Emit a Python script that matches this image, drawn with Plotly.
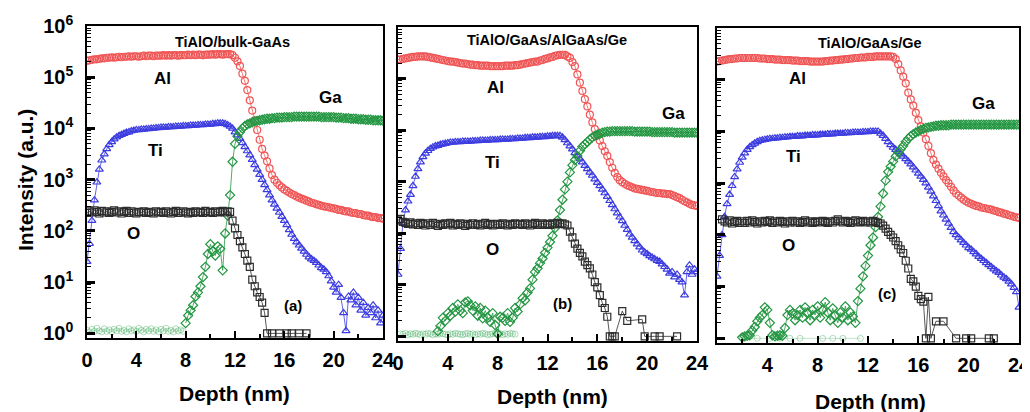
import plotly.graph_objects as go

# ---------------- data ----------------
# depth grid (nm) on which every profile was read
depth_nm = [
    0.0, 0.2, 0.4, 0.6, 0.8, 1.0, 1.2, 1.4, 1.6, 1.8,
    2.0, 2.2, 2.4, 2.6, 2.8, 3.0, 3.2, 3.4, 3.6, 3.8,
    4.0, 4.2, 4.4, 4.6, 4.8, 5.0, 5.2, 5.4, 5.6, 5.8,
    6.0, 6.2, 6.4, 6.6, 6.8, 7.0, 7.2, 7.4, 7.6, 7.8,
    8.0, 8.2, 8.4, 8.6, 8.8, 9.0, 9.2, 9.4, 9.6, 9.8,
    10.0, 10.2, 10.4, 10.6, 10.8, 11.0, 11.2, 11.4, 11.6, 11.8,
    12.0, 12.2, 12.4, 12.6, 12.8, 13.0, 13.2, 13.4, 13.6, 13.8,
    14.0, 14.2, 14.4, 14.6, 14.8, 15.0, 15.2, 15.4, 15.6, 15.8,
    16.0, 16.2, 16.4, 16.6, 16.8, 17.0, 17.2, 17.4, 17.6, 17.8,
    18.0, 18.2, 18.4, 18.6, 18.8, 19.0, 19.2, 19.4, 19.6, 19.8,
    20.0, 20.2, 20.4, 20.6, 20.8, 21.0, 21.2, 21.4, 21.6, 21.8,
    22.0, 22.2, 22.4, 22.6, 22.8, 23.0, 23.2, 23.4, 23.6, 23.8,
    24.0,
]
N = None

# values below are log10(intensity, a.u.)
# ---- (a) TiAlO/bulk-GaAs ----
al_a = [
    5.32, 5.33, 5.34, 5.35, 5.35, 5.36, 5.37, 5.37, 5.38, 5.38,
    5.39, 5.38, 5.39, 5.40, 5.39, 5.40, 5.40, 5.41, 5.40, 5.41,
    5.41, 5.40, 5.41, 5.42, 5.41, 5.42, 5.42, 5.41, 5.42, 5.42,
    5.42, 5.43, 5.42, 5.43, 5.42, 5.43, 5.43, 5.42, 5.43, 5.43,
    5.43, 5.44, 5.43, 5.44, 5.43, 5.44, 5.44, 5.43, 5.44, 5.44,
    5.44, 5.45, 5.44, 5.45, 5.45, 5.44, 5.45, 5.45, 5.45, 5.43,
    5.38, 5.31, 5.22, 5.07, 4.93, 4.75, 4.55, 4.35, 4.16, 3.97,
    3.78, 3.60, 3.47, 3.36, 3.22, 3.09, 3.00, 2.94, 2.89, 2.85,
    2.81, 2.78, 2.75, 2.72, 2.70, 2.67, 2.65, 2.63, 2.61, 2.59,
    2.57, 2.55, 2.54, 2.52, 2.51, 2.49, 2.48, 2.47, 2.46, 2.45,
    2.44, 2.43, 2.41, 2.41, 2.39, 2.38, 2.38, 2.36, 2.35, 2.35,
    2.33, 2.33, 2.31, 2.30, 2.30, 2.28, 2.27, 2.27, 2.25, 2.25,
    2.24,
]
ti_a = [
    1.40, 1.75, 2.20, 2.60, 2.95, 3.20, 3.38, 3.50, 3.60, 3.68,
    3.74, 3.79, 3.83, 3.86, 3.88, 3.90, 3.92, 3.93, 3.95, 3.96,
    3.97, 3.97, 3.98, 3.98, 3.99, 3.99, 4.00, 4.00, 4.01, 4.01,
    4.02, 4.02, 4.02, 4.03, 4.03, 4.03, 4.04, 4.04, 4.04, 4.05,
    4.05, 4.05, 4.06, 4.06, 4.06, 4.07, 4.07, 4.07, 4.08, 4.08,
    4.08, 4.09, 4.09, 4.10, 4.10, 4.10, 4.09, 4.07, 4.04, 4.00,
    3.93, 3.87, 3.80, 3.72, 3.64, 3.56, 3.48, 3.39, 3.29, 3.20,
    3.10, 3.00, 2.90, 2.80, 2.70, 2.60, 2.52, 2.44, 2.36, 2.28,
    2.20, 2.12, 2.02, 1.93, 1.85, 1.78, 1.72, 1.66, 1.60, 1.54,
    1.49, 1.45, 1.42, 1.38, 1.33, 1.28, 1.25, 1.20, 1.12, 1.02,
    0.90, 0.80, 0.95, 0.70, 0.40, 0.05, 0.72, 0.65, 0.80, 0.55,
    0.70, 0.45, 0.60, 0.35, 0.50, 0.40, 0.55, 0.30, 0.45, 0.20,
    0.35,
]
ga_a = [
    N, N, N, N, N, N, N, N, N, N,
    N, N, N, N, N, N, N, N, N, N,
    N, N, N, N, N, N, N, N, N, N,
    N, N, N, N, N, N, N, N, N, N,
    0.20, 0.35, 0.45, 0.55, 0.72, 0.80, 0.92, 1.10, 1.30, 1.55,
    1.74, 1.60, 1.52, 1.70, 1.65, 1.23, 1.95, 2.30, 2.70, 3.35,
    3.70, 3.85, 3.93, 4.00, 4.05, 4.08, 4.10, 4.12, 4.14, 4.15,
    4.16, 4.17, 4.18, 4.19, 4.19, 4.20, 4.20, 4.21, 4.21, 4.21,
    4.22, 4.22, 4.22, 4.22, 4.23, 4.23, 4.23, 4.23, 4.23, 4.23,
    4.23, 4.23, 4.23, 4.23, 4.23, 4.22, 4.22, 4.22, 4.22, 4.22,
    4.22, 4.21, 4.21, 4.21, 4.20, 4.20, 4.20, 4.19, 4.19, 4.19,
    4.18, 4.18, 4.18, 4.17, 4.17, 4.17, 4.16, 4.16, 4.16, 4.16,
    4.15,
]
ga_floor_a = [
    0.06, 0.03, 0.08, 0.04, 0.10, 0.05, 0.03, 0.09, 0.04, 0.07,
    0.03, 0.08, 0.05, 0.10, 0.04, 0.06, 0.03, 0.09, 0.05, 0.07,
    0.04, 0.10, 0.06, 0.03, 0.08, 0.05, 0.09, 0.04, 0.07, 0.03,
    0.08, 0.05, 0.10, 0.04, 0.06, 0.03, 0.09, 0.05, 0.07, 0.04,
] + [N] * 81
o_a = [
    2.35, 2.38, 2.36, 2.40, 2.37, 2.34, 2.39, 2.36, 2.38, 2.35,
    2.37, 2.40, 2.36, 2.38, 2.34, 2.37, 2.39, 2.35, 2.38, 2.36,
    2.34, 2.37, 2.36, 2.38, 2.35, 2.37, 2.36, 2.34, 2.38, 2.36,
    2.37, 2.35, 2.38, 2.36, 2.34, 2.37, 2.39, 2.35, 2.36, 2.38,
    2.36, 2.34, 2.37, 2.35, 2.38, 2.36, 2.37, 2.35, 2.39, 2.36,
    2.37, 2.35, 2.38, 2.36, 2.37, 2.39, 2.36, 2.38, 2.37, 2.20,
    2.05, 1.92, 1.80, 1.68, 1.55, 1.42, 1.30, 1.05, 0.92, 0.80,
    0.71, 0.60, 0.40, 0.00, N, 0.00, N, N, 0.00, N,
    N, 0.00, N, 0.00, N, N, 0.00, N, N, 0.00,
] + [N] * 31

# ---- (b) TiAlO/GaAs/AlGaAs/Ge ----
al_b = [
    5.37, 5.37, 5.38, 5.39, 5.40, 5.41, 5.42, 5.42, 5.43, 5.43,
    5.43, 5.43, 5.42, 5.41, 5.40, 5.39, 5.38, 5.37, 5.36, 5.35,
    5.34, 5.33, 5.33, 5.32, 5.31, 5.30, 5.29, 5.29, 5.28, 5.27,
    5.27, 5.26, 5.26, 5.25, 5.25, 5.25, 5.25, 5.24, 5.24, 5.24,
    5.24, 5.24, 5.24, 5.25, 5.25, 5.25, 5.25, 5.26, 5.26, 5.27,
    5.28, 5.29, 5.30, 5.31, 5.32, 5.33, 5.33, 5.35, 5.36, 5.38,
    5.39, 5.41, 5.42, 5.44, 5.45, 5.46, 5.46, 5.46, 5.43, 5.40,
    5.32, 5.24, 5.08, 4.92, 4.76, 4.60, 4.46, 4.30, 4.15, 4.02,
    3.90, 3.80, 3.69, 3.59, 3.50, 3.38, 3.27, 3.17, 3.09, 3.03,
    2.99, 2.96, 2.93, 2.91, 2.89, 2.87, 2.86, 2.85, 2.84, 2.83,
    2.82, 2.81, 2.80, 2.79, 2.78, 2.78, 2.77, 2.77, 2.76, 2.76,
    2.74, 2.72, 2.70, 2.68, 2.65, 2.62, 2.60, 2.57, 2.55, 2.54,
    2.53,
]
ti_b = [
    1.20, 1.70, 2.20, 2.45, 2.62, 2.75, 2.92, 3.10, 3.25, 3.38,
    3.48, 3.55, 3.60, 3.64, 3.67, 3.69, 3.70, 3.72, 3.73, 3.74,
    3.75, 3.76, 3.76, 3.77, 3.77, 3.77, 3.78, 3.78, 3.78, 3.78,
    3.79, 3.79, 3.79, 3.80, 3.80, 3.80, 3.80, 3.81, 3.81, 3.81,
    3.81, 3.82, 3.82, 3.82, 3.82, 3.83, 3.83, 3.83, 3.84, 3.84,
    3.84, 3.85, 3.85, 3.85, 3.86, 3.86, 3.86, 3.87, 3.87, 3.87,
    3.88, 3.88, 3.89, 3.89, 3.89, 3.89, 3.86, 3.81, 3.75, 3.69,
    3.63, 3.56, 3.50, 3.44, 3.38, 3.31, 3.25, 3.18, 3.12, 3.05,
    2.98, 2.92, 2.85, 2.78, 2.71, 2.63, 2.55, 2.47, 2.39, 2.31,
    2.24, 2.15, 2.07, 1.98, 1.92, 1.85, 1.79, 1.73, 1.67, 1.63,
    1.60, 1.56, 1.53, 1.50, 1.47, 1.45, 1.40, 1.35, 1.30, 1.22,
    1.25, 1.15, 1.20, 1.10, 1.05, 0.80, 1.25, 1.38, 1.20, 1.30,
    1.25,
]
ga_b = [
    N, N, N, N, N, N, N, N, N, N,
    N, N, N, N, N, N, 0.10, 0.20, 0.36, 0.30,
    0.45, 0.40, 0.55, 0.48, 0.62, 0.50, 0.45, 0.66, 0.68, 0.60,
    0.50, 0.58, 0.40, 0.55, 0.35, 0.50, 0.36, 0.28, 0.45, 0.22,
    0.05, 0.38, 0.36, 0.30, 0.45, 0.28, 0.36, 0.55, 0.48, 0.62,
    0.74, 0.70, 0.85, 0.93, 1.10, 1.25, 1.32, 1.42, 1.51, 1.62,
    1.72, 1.83, 1.95, 2.10, 2.25, 2.45, 2.65, 2.85, 3.00, 3.18,
    3.32, 3.42, 3.50, 3.60, 3.68, 3.73, 3.77, 3.82, 3.86, 3.89,
    3.91, 3.93, 3.95, 3.96, 3.97, 3.97, 3.98, 3.98, 3.98, 3.98,
    3.98, 3.98, 3.98, 3.98, 3.98, 3.97, 3.97, 3.97, 3.97, 3.97,
    3.97, 3.97, 3.96, 3.96, 3.96, 3.96, 3.96, 3.96, 3.96, 3.96,
    3.96, 3.95, 3.95, 3.95, 3.95, 3.95, 3.95, 3.95, 3.95, 3.95,
    3.95,
]
ga_floor_b = [
    N, 0.05, 0.04, 0.06, 0.03, 0.05, 0.04, 0.06, 0.05, 0.03,
    0.05, 0.04, 0.06, 0.05, 0.03, 0.05, 0.04, 0.06, 0.05, 0.04,
    0.03, 0.05, 0.04, 0.06, 0.05, 0.04, 0.03, 0.05, 0.06, 0.04,
    0.05, 0.03, 0.05, 0.04, 0.06, 0.05, 0.03, 0.04, 0.05, 0.06,
    0.04, 0.05, 0.03, 0.05, 0.04, 0.06, 0.05, 0.04, N, N,
] + [N] * 71
o_b = [
    2.25, 2.28, 2.22, 2.20, 2.18, 2.21, 2.17, 2.19, 2.16, 2.20,
    2.18, 2.15, 2.19, 2.16, 2.20, 2.17, 2.14, 2.18, 2.16, 2.19,
    2.17, 2.20, 2.15, 2.18, 2.16, 2.19, 2.17, 2.14, 2.18, 2.16,
    2.19, 2.16, 2.18, 2.15, 2.17, 2.20, 2.16, 2.18, 2.15, 2.17,
    2.18, 2.16, 2.19, 2.17, 2.15, 2.18, 2.16, 2.19, 2.17, 2.18,
    2.16, 2.19, 2.17, 2.15, 2.18, 2.20, 2.16, 2.17, 2.19, 2.16,
    2.18, 2.16, 2.19, 2.17, 2.20, 2.18, 2.19, 2.17, 2.15, 2.03,
    1.92, 1.80, 1.70, 1.62, 1.55, 1.45, 1.38, 1.32, 1.20, 1.05,
    0.95, 0.80, 0.65, 0.55, 0.38, 0.00, 0.00, 0.00, N, N,
    0.49, N, 0.30, N, N, N, N, N, 0.33, 0.00,
    N, N, N, 0.00, N, 0.00, N, N, N, N,
    N, N, 0.00, N, N, N, N, N, N, N,
    N,
]

# ---- (c) TiAlO/GaAs/Ge ----
al_c = [
    5.35, 5.36, 5.37, 5.38, 5.39, 5.40, 5.40, 5.41, 5.41, 5.42,
    5.42, 5.42, 5.42, 5.42, 5.42, 5.42, 5.42, 5.41, 5.41, 5.41,
    5.40, 5.40, 5.40, 5.39, 5.39, 5.39, 5.38, 5.38, 5.38, 5.38,
    5.37, 5.37, 5.37, 5.36, 5.36, 5.36, 5.36, 5.35, 5.35, 5.35,
    5.35, 5.35, 5.35, 5.36, 5.36, 5.37, 5.37, 5.38, 5.38, 5.39,
    5.39, 5.40, 5.40, 5.41, 5.41, 5.42, 5.42, 5.43, 5.43, 5.43,
    5.44, 5.44, 5.44, 5.45, 5.45, 5.45, 5.45, 5.45, 5.45, 5.45,
    5.44, 5.40, 5.30, 5.18, 5.06, 4.93, 4.75, 4.62, 4.50, 4.36,
    4.22, 4.10, 3.98, 3.85, 3.72, 3.58, 3.45, 3.36, 3.28, 3.20,
    3.13, 3.06, 3.00, 2.93, 2.86, 2.80, 2.76, 2.72, 2.68, 2.65,
    2.62, 2.60, 2.58, 2.56, 2.55, 2.53, 2.52, 2.51, 2.50, 2.49,
    2.47, 2.46, 2.44, 2.43, 2.41, 2.40, 2.38, 2.37, 2.35, 2.34,
    2.33,
]
ti_c = [
    1.20, 1.60, 2.00, 2.35, 2.60, 2.78, 2.95, 3.12, 3.27, 3.40,
    3.50, 3.58, 3.65, 3.70, 3.74, 3.77, 3.80, 3.82, 3.83, 3.84,
    3.85, 3.86, 3.86, 3.87, 3.87, 3.88, 3.88, 3.89, 3.89, 3.90,
    3.90, 3.90, 3.91, 3.91, 3.91, 3.92, 3.92, 3.92, 3.93, 3.93,
    3.93, 3.94, 3.94, 3.94, 3.95, 3.95, 3.95, 3.96, 3.96, 3.96,
    3.96, 3.97, 3.97, 3.97, 3.98, 3.98, 3.98, 3.98, 3.99, 3.99,
    3.99, 4.00, 4.00, 4.00, 4.00, 3.96, 3.92, 3.86, 3.80, 3.74,
    3.69, 3.65, 3.61, 3.56, 3.52, 3.47, 3.42, 3.37, 3.31, 3.25,
    3.19, 3.13, 3.07, 3.00, 2.92, 2.84, 2.75, 2.66, 2.56, 2.46,
    2.38, 2.30, 2.22, 2.14, 2.06, 2.00, 1.95, 1.90, 1.85, 1.80,
    1.75, 1.72, 1.67, 1.63, 1.58, 1.54, 1.50, 1.46, 1.42, 1.38,
    1.34, 1.30, 1.27, 1.22, 1.18, 1.15, 1.10, 1.05, 0.98, 0.90,
    0.60,
]
ga_c = [
    N, N, N, N, N, N, N, N, N, N,
    0.02, 0.04, 0.05, 0.06, 0.15, 0.22, 0.33, 0.40, 0.45, 0.60,
    0.55, 0.30, 0.06, 0.04, 0.05, 0.06, 0.05, 0.20, 0.45, 0.55,
    0.48, 0.35, 0.45, 0.55, 0.40, 0.60, 0.50, 0.35, 0.55, 0.45,
    0.62, 0.40, 0.55, 0.70, 0.50, 0.35, 0.58, 0.45, 0.30, 0.50,
    0.40, 0.62, 0.35, 0.50, 0.42, 0.30, 0.72, 0.96, 1.20, 1.40,
    1.60, 1.80, 1.95, 2.15, 2.35, 2.55, 2.80, 3.05, 3.22, 3.32,
    3.42, 3.52, 3.60, 3.66, 3.72, 3.80, 3.86, 3.91, 3.95, 3.98,
    4.00, 4.03, 4.05, 4.07, 4.08, 4.09, 4.10, 4.11, 4.11, 4.12,
    4.12, 4.12, 4.12, 4.13, 4.13, 4.13, 4.13, 4.13, 4.13, 4.13,
    4.13, 4.13, 4.13, 4.13, 4.13, 4.13, 4.13, 4.13, 4.13, 4.13,
    4.13, 4.13, 4.13, 4.13, 4.13, 4.13, 4.13, 4.13, 4.13, 4.13,
    4.13,
]
ga_floor_c = [
    N, N, N, N, N, N, N, N, N, N,
    0.00, N, N, N, N, N, 0.00, N, N, N,
    N, 0.00, N, N, N, 0.00, N, N, N, 0.00,
    N, N, N, 0.00, N, N, N, N, N, N,
    N, N, 0.00, N, N, N, 0.00, N, N, N,
    0.00, N, N, N, N, N, N, 0.00, N, N,
] + [N] * 61
o_c = [
    N, N, 2.30, 2.26, 2.24, 2.28, 2.22, 2.25, 2.27, 2.23,
    2.26, 2.23, 2.27, 2.24, 2.28, 2.25, 2.22, 2.26, 2.24, 2.27,
    2.25, 2.28, 2.23, 2.26, 2.24, 2.27, 2.25, 2.22, 2.26, 2.24,
    2.27, 2.24, 2.26, 2.23, 2.25, 2.28, 2.24, 2.26, 2.23, 2.25,
    2.26, 2.24, 2.27, 2.25, 2.23, 2.26, 2.24, 2.27, 2.30, 2.26,
    2.24, 2.27, 2.25, 2.23, 2.26, 2.28, 2.24, 2.25, 2.27, 2.24,
    2.26, 2.24, 2.27, 2.25, 2.23, 2.22, 2.18, 2.12, 2.06, 2.00,
    1.95, 1.88, 1.80, 1.72, 1.65, 1.50, 1.35, 1.15, 1.10, 1.00,
    0.82, 0.76, 0.71, 0.00, 0.80, 0.00, N, 0.33, N, N,
    0.33, N, N, N, N, 0.00, N, N, N, 0.00,
    N, 0.00, N, N, N, N, N, N, 0.00, N,
    0.00, N, N, N, N, N, N, N, N, N,
    N,
]

panel_titles = ["TiAlO/bulk-GaAs", "TiAlO/GaAs/AlGaAs/Ge", "TiAlO/GaAs/Ge"]
panel_tags = ["(a)", "(b)", "(c)"]
x_tick_values = [[0, 4, 8, 12, 16, 20, 24], [0, 4, 8, 12, 16, 20, 24], [4, 8, 12, 16, 20, 24]]
y_tick_exponents = [0, 1, 2, 3, 4, 5, 6]

# ---------------- styling ----------------
W, H = 1030, 412
PAGE_OFFSET = 8  # the page body adds an 8 px margin around the figure
FONT = "Liberation Sans, Arial, sans-serif"
STYLE = {
    "Al": dict(symbol="circle-open", color="rgb(240,85,85)"),
    "Ti": dict(symbol="triangle-up-open", color="rgb(60,60,225)"),
    "Ga": dict(symbol="diamond-open", color="rgb(35,150,65)"),
    "Gaf": dict(symbol="circle-open", color="rgba(60,170,90,0.40)"),
    "O": dict(symbol="square-open", color="rgb(45,45,45)"),
}

# positions below are screen pixels of the target picture
panels = [
    dict(series=[("Al", al_a), ("Ti", ti_a), ("Gaf", ga_floor_a), ("Ga", ga_a), ("O", o_a)],
         xpx=(87, 383), ypx=(26, 338),
         title=(232, 42), labels={"Al": (162, 78), "Ti": (155, 150), "Ga": (330, 97), "O": (133, 233)},
         tag=(293, 305), xlabel=(234, 393)),
    dict(series=[("Al", al_b), ("Ti", ti_b), ("Gaf", ga_floor_b), ("Ga", ga_b), ("O", o_b)],
         xpx=(398, 697), ypx=(27, 341),
         title=(547, 40), labels={"Al": (495, 87), "Ti": (492, 163), "Ga": (673, 113), "O": (492, 250)},
         tag=(562, 303), xlabel=(552, 396)),
    dict(series=[("Al", al_c), ("Ti", ti_c), ("Gaf", ga_floor_c), ("Ga", ga_c), ("O", o_c)],
         xpx=(717, 1019), ypx=(28, 343),
         title=(870, 43), labels={"Al": (797, 78), "Ti": (793, 157), "Ga": (983, 103), "O": (788, 245)},
         tag=(887, 293), xlabel=(870, 401)),
]


def px_x(v):
    return (v - PAGE_OFFSET) / W


def px_y(v):
    return 1 - (v - PAGE_OFFSET) / H


def to_counts(logs):
    return [None if v is None else 10 ** v for v in logs]


fig = go.Figure()
annotations = []
minor_y = [m * 10 ** e for e in range(0, 6) for m in range(2, 10)]

for i, p in enumerate(panels):
    sfx = "" if i == 0 else str(i + 1)
    for name, logs in p["series"]:
        st = STYLE[name]
        faint = name == "Gaf"
        fig.add_trace(go.Scatter(
            x=depth_nm, y=to_counts(logs), xaxis="x" + sfx, yaxis="y" + sfx,
            mode="lines+markers", connectgaps=True, showlegend=False,
            line=dict(color=st["color"], width=0.8),
            marker=dict(symbol=st["symbol"], size=6 if faint else 7, color=st["color"],
                        line=dict(color=st["color"], width=1.0 if faint else 1.2)),
        ))
    x0, x1 = p["xpx"]
    yt, yb = p["ypx"]
    xt = x_tick_values[i]
    fig.update_layout(**{
        "xaxis" + sfx: dict(
            domain=[px_x(x0), px_x(x1)], range=[0, 24], anchor="y" + sfx, automargin=False,
            tickmode="array", tickvals=xt, ticktext=["<b>%d</b>" % v for v in xt],
            ticks="inside", ticklen=7, tickwidth=2, tickcolor="black",
            minor=dict(tickmode="array", tickvals=[2, 6, 10, 14, 18, 22], ticks="inside",
                       ticklen=4, tickwidth=1.5, tickcolor="black", showgrid=False),
            showline=True, linecolor="black", linewidth=1.5, mirror=True,
            showgrid=False, zeroline=False, ticklabelstandoff=3,
            tickfont=dict(family=FONT, size=20, color="black"),
        ),
        "yaxis" + sfx: dict(
            type="log", domain=[px_y(yb), px_y(yt)], range=[-0.09, 6.0], anchor="x" + sfx,
            automargin=False,
            tickmode="array", tickvals=[10 ** e for e in y_tick_exponents],
            ticktext=["<b>10<sup>%d</sup></b>" % e for e in y_tick_exponents],
            showticklabels=(i == 0),
            ticks="inside", ticklen=8, tickwidth=2.5, tickcolor="black",
            minor=dict(tickmode="array", tickvals=minor_y, ticks="inside",
                       ticklen=4, tickwidth=1.2, tickcolor="black", showgrid=False),
            showline=True, linecolor="black", linewidth=1.5, mirror=True,
            showgrid=False, zeroline=False, ticklabelstandoff=8,
            tickfont=dict(family=FONT, size=20, color="black"),
        ),
    })
    tx, ty = p["title"]
    annotations.append(dict(text="<b>%s</b>" % panel_titles[i], x=px_x(tx), y=px_y(ty),
                            font=dict(family=FONT, size=14.5, color="black")))
    for lab, (lx, ly) in p["labels"].items():
        annotations.append(dict(text="<b>%s</b>" % lab, x=px_x(lx), y=px_y(ly),
                                font=dict(family=FONT, size=17, color="black")))
    gx, gy = p["tag"]
    annotations.append(dict(text="<b>%s</b>" % panel_tags[i], x=px_x(gx), y=px_y(gy),
                            font=dict(family=FONT, size=15, color="black")))
    dx, dy = p["xlabel"]
    annotations.append(dict(text="<b>Depth (nm)</b>", x=px_x(dx), y=px_y(dy),
                            font=dict(family=FONT, size=21, color="black")))

annotations.append(dict(text="<b>Intensity (a.u.)</b>", x=px_x(25), y=px_y(180), textangle=-90,
                        font=dict(family=FONT, size=21, color="black")))
for a in annotations:
    a.update(xref="paper", yref="paper", showarrow=False, xanchor="center", yanchor="middle")

fig.update_layout(
    width=W, height=H, autosize=False,
    margin=dict(l=0, r=0, t=0, b=0, autoexpand=False),
    paper_bgcolor="white", plot_bgcolor="white",
    annotations=annotations,
)

fig.write_html("out.html")
